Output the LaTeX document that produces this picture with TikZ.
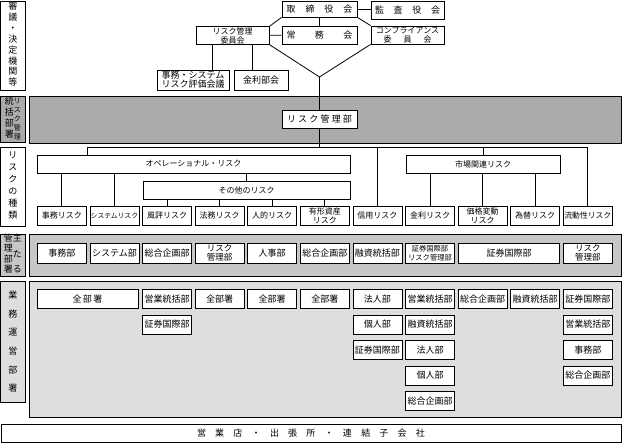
\documentclass[tikz,border=0pt]{standalone}
\usepackage{fontspec}
\setmainfont{Noto Sans CJK JP}
\newcommand{\fs}[1]{\fontsize{#1}{9pt}\selectfont}
\newcommand{\spreadtxt}[2]{\makebox[#1][s]{#2}}
\newcommand{\tatecol}[3]{{\fontsize{#1}{#2}\selectfont\begin{tabular}{@{}c@{}}#3\end{tabular}}}

\begin{document}
\begin{tikzpicture}[x=1pt,y=-1pt,line width=0.8pt]
    \tikzstyle{box} = [draw,fill=white,inner sep=0.5pt,align=center,font=\fs{8}]
    \tikzstyle{rbox} = [box,minimum width=49pt,minimum height=19pt]
    \tikzstyle{dbox} = [box,minimum width=49pt,minimum height=19pt,font=\fs{9}]
    \tikzstyle{lbl} = [draw,inner sep=0pt,minimum width=25pt]
    \useasboundingbox (0,0) rectangle (622,443);

    \draw[fill=black!33] (29,96) rectangle (621,143);
    \draw[fill=black!22] (29,234) rectangle (621,276);
    \draw[fill=black!13] (29,281) rectangle (621,417);

    \node[lbl,minimum height=89pt] (l1) at (13,45.5) {\tatecol{9}{10.9}{審\\議\\・\\決\\定\\機\\関\\等}};
    \node[lbl,minimum height=46pt,fill=black!33] (l2) at (13,119.5) {\tatecol{9}{11}{統\\括\\部\\署}\tatecol{7}{8.8}{リ\\ス\\ク\\管\\理}};
    \node[lbl,minimum height=79pt] (l3) at (13,186.5) {\tatecol{9}{12}{リ\\ス\\ク\\の\\種\\類}};
    \node[lbl,minimum height=42pt,fill=black!22] (l4) at (13,255) {\tatecol{9}{10.3}{管\\理\\部\\署}\tatecol{9}{10.3}{主\\[5pt]た\\[5pt]る}};
    \node[lbl,minimum height=121pt,fill=black!13] (l5) at (13,341.5) {\tatecol{9}{18.6}{業\\務\\運\\営\\部\\署}};

    \node[box,minimum width=75pt,minimum height=16pt,font=\fs{9}] (tori) at (319.5,9) {\spreadtxt{66pt}{取\hfill 締\hfill 役\hfill 会}};
    \node[box,minimum width=73pt,minimum height=18pt,font=\fs{9}] (kansa) at (407.5,10) {\spreadtxt{65pt}{監\hfill 査\hfill 役\hfill 会}};
    \node[box,minimum width=75pt,minimum height=18pt,font=\fs{9}] (joumu) at (319.5,35) {\spreadtxt{66pt}{常\hfill 務\hfill 会}};
    \node[box,minimum width=73pt,minimum height=17pt] (rkiin) at (232.5,35.5) {リスク管理\\委員会};
    \node[box,minimum width=73pt,minimum height=18pt] (comp) at (407.5,35) {コンプライアンス\\\spreadtxt{48pt}{委\hfill 員\hfill 会}};
    \node[box,minimum width=72pt,minimum height=20pt,font=\fs{9}] (kaigi) at (193,80) {事務・システム\\リスク評価会議};
    \node[box,minimum width=54pt,minimum height=20pt,font=\fs{9}] (kinri) at (261,80) {金利部会};
    \node[box,minimum width=75pt,minimum height=18pt,font=\fs{9}] (rkb) at (319.5,119) {\spreadtxt{65pt}{リ\hfill ス\hfill ク\hfill 管\hfill 理\hfill 部}};
    \coordinate (v) at (319.5,77);

    \draw (tori.east) -- (tori.east -| kansa.west);
    \draw (tori) -- (joumu);
    \draw (rkiin) -- (joumu);
    \draw (tori.south west) -- (rkiin.north east);
    \draw (tori.south east) -- (comp.north west);
    \draw (rkiin.south east) -- (v) -- (comp.south west);
    \draw ([xshift=19pt]kaigi.north) -- ([xshift=19pt]kaigi.north |- rkiin.south);
    \draw ([xshift=-9pt]kinri.north) -- ([xshift=-9pt]kinri.north |- rkiin.south);
    \draw (v) -- (rkb.north);

    \node[box,minimum width=313pt,minimum height=18pt] (ope) at (193.5,164) {オペレーショナル・リスク};
    \node[box,minimum width=207pt,minimum height=18pt] (sono) at (246.5,190) {その他のリスク};
    \node[box,minimum width=154pt,minimum height=18pt] (sijo) at (483,164) {市場関連リスク};
    \foreach \i/\f/\t in {1/8/事務リスク, 2/6.8/システムリスク, 3/8/風評リスク, 4/8/法務リスク,
        5/8/人的リスク, 6/8/有形資産\\リスク, 7/8/信用リスク, 8/8/金利リスク,
        9/8/価格変動\\リスク, 10/8/為替リスク, 11/7.8/流動性リスク}
        \node[rbox,font=\fs{\f}] (r\i) at ({61.8+52.6*(\i-1)},215.5) {\t};

    \coordinate (bus) at (87,147);
    \draw (rkb.south) -- (rkb.south |- bus);
    \draw (bus |- ope.north) -- (bus) -- (bus -| r11.north) -- (r11.north);
    \draw (r7.north) -- (r7.north |- bus);
    \draw (sijo.north) -- (sijo.north |- bus);
    \draw (sono.north) -- (sono.north |- ope.south);
    \foreach \i in {1,2}
        \draw (r\i.north) -- (r\i.north |- ope.south);
    \foreach \i in {3,...,6}
        \draw (r\i.north) -- (r\i.north |- sono.south);
    \foreach \i in {8,9,10}
        \draw (r\i.north) -- (r\i.north |- sijo.south);

    \foreach \i/\f/\t in {1/9/事務部, 2/9/システム部, 3/9/総合企画部, 4/8.5/リスク\\管理部,
        5/9/人事部, 6/9/総合企画部, 7/9/融資統括部, 8/7.3/証券国際部\\リスク管理部, 11/8.5/リスク\\管理部}
        \node[dbox,minimum height=20pt,font=\fs{\f}] (d\i) at ({61.8+52.6*(\i-1)},253) {\t};
    \node[dbox,minimum height=20pt,minimum width=101pt] (d9) at (509,253) {証券国際部};

    \node[dbox,minimum width=101pt] (o1-1) at (87.5,299) {\spreadtxt{30pt}{全\hfill 部\hfill 署}};
    \foreach \i/\j/\t in {3/1/営業統括部, 4/1/全部署, 5/1/全部署, 6/1/全部署, 7/1/法人部,
        8/1/営業統括部, 9/1/総合企画部, 10/1/融資統括部, 11/1/証券国際部,
        3/2/証券国際部, 7/2/個人部, 8/2/融資統括部, 11/2/営業統括部,
        7/3/証券国際部, 8/3/法人部, 11/3/事務部,
        8/4/個人部, 11/4/総合企画部, 8/5/総合企画部}
        \node[dbox] (o\i-\j) at ({61.8+52.6*(\i-1)},{299+25.5*(\j-1)}) {\t};

    \node[box,minimum width=620pt,minimum height=18pt,font=\fs{9}] (shiten) at (311,433) {\spreadtxt{228pt}{営\hfill 業\hfill 店\hfill ・\hfill 出\hfill 張\hfill 所\hfill ・\hfill 連\hfill 結\hfill 子\hfill 会\hfill 社}};
\end{tikzpicture}
\end{document}
